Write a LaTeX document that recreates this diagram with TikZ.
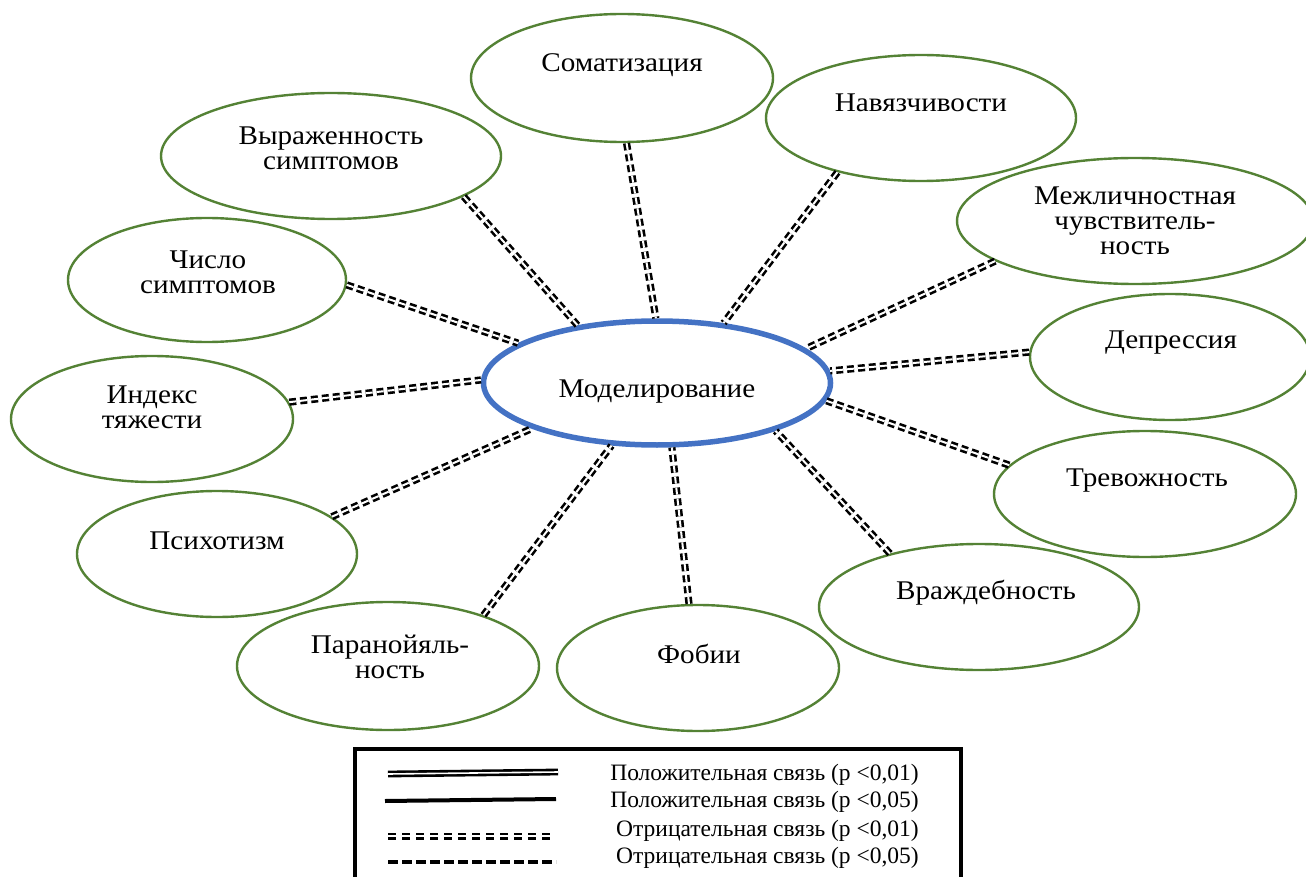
\documentclass[tikz,border=0pt]{standalone}
\usepackage{fontspec}
\setmainfont{Liberation Serif}[FakeStretch=1.08]
\newfontfamily\legfont{Liberation Serif}
\usetikzlibrary{shapes.geometric}
\definecolor{bubgreen}{HTML}{548235}
\definecolor{hubblue}{HTML}{4472C4}
\tikzset{
  bub/.style={ellipse, draw=bubgreen, line width=2.4pt, inner sep=0pt},
  hubstyle/.style={ellipse, draw=hubblue, line width=5.5pt, inner sep=0pt, fill=white},
  lbl/.style={font=\fontsize{27}{25}\selectfont, align=center, inner sep=0pt},
  legtext/.style={font=\legfont\fontsize{23.5}{24}\selectfont, inner sep=0pt},
  neglink/.style={draw=black, line width=2.6pt, double=white, double distance=2pt, dash pattern=on 7pt off 4pt},
  legpos01/.style={draw=black, line width=2.6pt, double=white, double distance=1.6pt},
  legpos05/.style={draw=black, line width=4pt},
  legneg01/.style={draw=black, line width=2.5pt, double=white, double distance=2pt, dash pattern=on 8pt off 6pt},
  legneg05/.style={draw=black, line width=4pt, dash pattern=on 10pt off 4pt},
}
\begin{document}
\begin{tikzpicture}[x=1pt, y=-1pt]
\useasboundingbox (0,0) rectangle (1306,877);

% outer factor ellipses
\node[bub, minimum width=302pt, minimum height=128pt] (som)   at (622,78)  {};
\node[bub, minimum width=310pt, minimum height=126pt] (nav)   at (921,118) {};
\node[bub, minimum width=340pt, minimum height=126pt] (vyr)   at (331,156) {};
\node[bub, minimum width=356pt, minimum height=126pt] (mezh)  at (1135,221) {};
\node[bub, minimum width=278pt, minimum height=124pt] (chis)  at (207,280) {};
\node[bub, minimum width=280pt, minimum height=126pt] (depr)  at (1170,357) {};
\node[bub, minimum width=282pt, minimum height=126pt] (ind)   at (152,419) {};
\node[bub, minimum width=302pt, minimum height=126pt] (trev)  at (1145,494) {};
\node[bub, minimum width=280pt, minimum height=126pt] (psih)  at (217,554) {};
\node[bub, minimum width=320pt, minimum height=126pt] (vrazh) at (979,607) {};
\node[bub, minimum width=302pt, minimum height=128pt] (paran) at (388,666) {};
\node[bub, minimum width=282pt, minimum height=126pt] (fob)   at (698,668) {};

% central ellipse
\node[hubstyle, minimum width=347pt, minimum height=124pt] (hub) at (657,383) {};

% labels
\node[lbl] (som-t)   at (622,65)  {Соматизация};
\node[lbl] (nav-t)   at (921,103) {Навязчивости};
\node[lbl] (vyr-t)   at (331,148) {Выраженность\\симптомов};
\node[lbl] (mezh-t)  at (1135,221) {Межличностная\\чувствитель-\\ность};
\node[lbl] (chis-t)  at (208,272) {Число\\симптомов};
\node[lbl] (depr-t)  at (1171,343) {Депрессия};
\node[lbl] (ind-t)   at (152,407) {Индекс\\тяжести};
\node[lbl] (trev-t)  at (1147,481) {Тревожность};
\node[lbl] (psih-t)  at (217,541) {Психотизм};
\node[lbl] (vrazh-t) at (986,593) {Враждебность};
\node[lbl] (paran-t) at (390,657) {Паранойяль-\\ность};
\node[lbl] (fob-t)   at (699,654) {Фобии};
\node[lbl] (hub-t)   at (657,392) {Моделирование};

% negative links (p < 0,01)
\draw[neglink] (vyr.-17.6)   -- (hub.144);
\draw[neglink] (som.-86.5)   -- (hub.91.8);
\draw[neglink] (nav.-147)    -- (hub.42);
\draw[neglink] (mezh.-164.6) -- (hub.13.9);
\draw[neglink] (chis.-2)     -- (hub.164);
\draw[neglink] (depr.178.8)  -- (hub.4);
\draw[neglink] (ind.7.3)     -- (hub.179.4);
\draw[neglink] (trev.168.7)  -- (hub.-6.5);
\draw[neglink] (psih.18.3)   -- (hub.-160);
\draw[neglink] (vrazh.149.9) -- (hub.-22.9);
\draw[neglink] (paran.28.5)  -- (hub.-126);
\draw[neglink] (fob.98)      -- (hub.-77);

% legend
\node[draw=black, line width=4pt, minimum width=606pt, minimum height=160pt,
      anchor=north west, inner sep=0pt] (legend) at (353,747) {};
\coordinate (l1a) at (388,774); \coordinate (l1b) at (558,772);
\coordinate (l2a) at (385,801); \coordinate (l2b) at (556,799);
\coordinate (l3a) at (388,836); \coordinate (l3b) at (554,836);
\coordinate (l4a) at (388,862); \coordinate (l4b) at (556,862);
\draw[legpos01] (l1a) -- (l1b);
\draw[legpos05] (l2a) -- (l2b);
\draw[legneg01] (l3a) -- (l3b);
\draw[legneg05] (l4a) -- (l4b);
\node[legtext, anchor=east] (t1) at (919,775) {Положительная связь (р <0,01)};
\node[legtext, anchor=east] (t2) at (919,802) {Положительная связь (р <0,05)};
\node[legtext, anchor=east] (t3) at (919,831) {Отрицательная связь (р <0,01)};
\node[legtext, anchor=east] (t4) at (919,858) {Отрицательная связь (р <0,05)};
\end{tikzpicture}
\end{document}
